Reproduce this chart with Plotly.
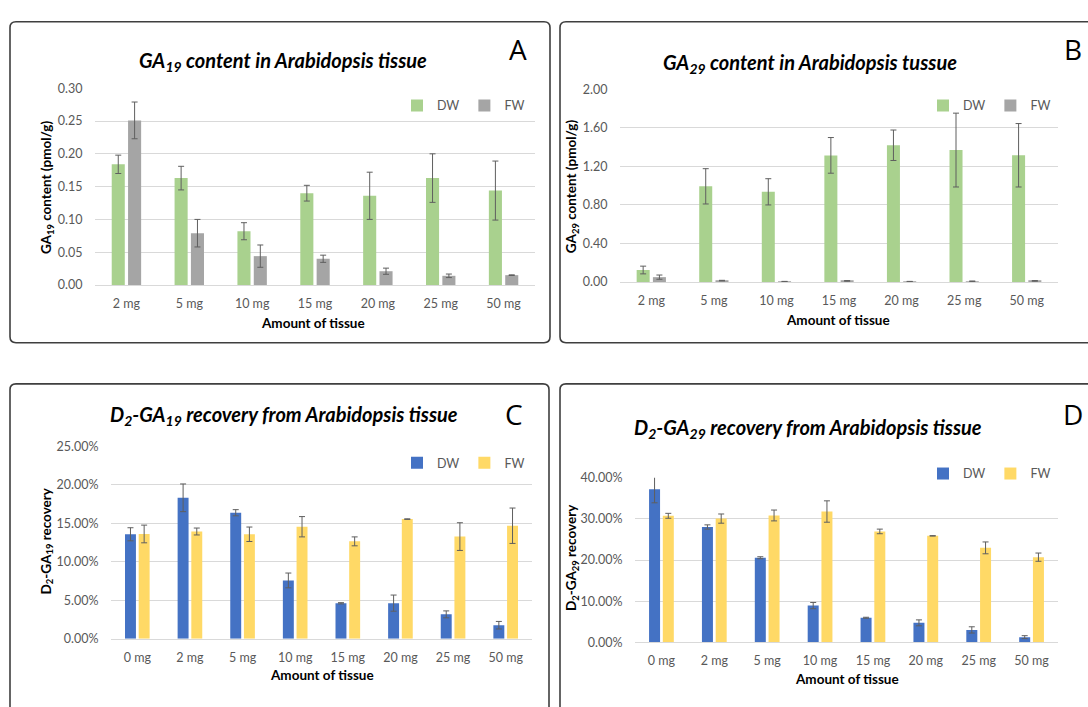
import plotly.graph_objects as go

W, H = 1088, 707


def px(x):
    return x / W


def py(y):
    return 1 - y / H


# ---------------- data ----------------
cats_ab = ["2 mg", "5 mg", "10 mg", "15 mg", "20 mg", "25 mg", "50 mg"]
cats_cd = ["0 mg", "2 mg", "5 mg", "10 mg", "15 mg", "20 mg", "25 mg", "50 mg"]

ga19_dw = [0.184, 0.163, 0.082, 0.140, 0.136, 0.163, 0.144]
ga19_dw_err = [0.014, 0.018, 0.013, 0.012, 0.036, 0.037, 0.045]
ga19_fw = [0.251, 0.079, 0.044, 0.040, 0.021, 0.014, 0.015]
ga19_fw_err = [0.028, 0.021, 0.017, 0.0055, 0.0047, 0.0027, 0.0005]

ga29_dw = [0.125, 0.993, 0.936, 1.314, 1.419, 1.369, 1.315]
ga29_dw_err = [0.040, 0.183, 0.136, 0.185, 0.158, 0.383, 0.329]
ga29_fw = [0.051, 0.015, 0.005, 0.012, 0.005, 0.008, 0.012]
ga29_fw_err = [0.022, 0.003, 0.002, 0.003, 0.002, 0.003, 0.003]

d2ga19_dw = [0.1359, 0.1833, 0.1639, 0.0759, 0.0462, 0.0464, 0.0318, 0.0177]
d2ga19_dw_err = [0.0085, 0.0180, 0.0040, 0.0096, 0.0008, 0.0105, 0.0045, 0.0049]
d2ga19_fw = [0.1363, 0.1395, 0.1359, 0.1457, 0.1267, 0.1556, 0.1329, 0.1470]
d2ga19_fw_err = [0.0115, 0.0045, 0.0094, 0.0132, 0.0058, 0.0004, 0.0180, 0.0230]

d2ga29_dw = [0.372, 0.2804, 0.2056, 0.0892, 0.0596, 0.0472, 0.0300, 0.0124]
d2ga29_dw_err = [0.0328, 0.0052, 0.0024, 0.0076, 0.0012, 0.0072, 0.0076, 0.0036]
d2ga29_fw = [0.3076, 0.3008, 0.3084, 0.3180, 0.2696, 0.2588, 0.2296, 0.2070]
d2ga29_fw_err = [0.0060, 0.0112, 0.0132, 0.0260, 0.0056, 0.0005, 0.0144, 0.0100]

# ---------------- styles ----------------
GREEN = "#A9D18E"
GREY = "#A5A5A5"
BLUE = "#4472C4"
YELLOW = "#FFD966"
ERR = "#5f5f5f"
GRID = "#D9D9D9"
TICK = "#595959"
FONT = "Lato, 'Open Sans', sans-serif"

fig = go.Figure()


def add_bar(name, cats, vals, errs, color, xa, ya, legend):
    fig.add_trace(go.Bar(
        name=name, x=cats, y=vals,
        error_y=dict(type="data", array=errs, visible=True, color=ERR,
                     thickness=1, width=3),
        marker=dict(color=color, line=dict(width=0)),
        xaxis=xa, yaxis=ya, legend=legend,
    ))


add_bar("DW", cats_ab, ga19_dw, ga19_dw_err, GREEN, "x", "y", "legend")
add_bar("FW", cats_ab, ga19_fw, ga19_fw_err, GREY, "x", "y", "legend")
add_bar("DW", cats_ab, ga29_dw, ga29_dw_err, GREEN, "x2", "y2", "legend2")
add_bar("FW", cats_ab, ga29_fw, ga29_fw_err, GREY, "x2", "y2", "legend2")
add_bar("DW", cats_cd, d2ga19_dw, d2ga19_dw_err, BLUE, "x3", "y3", "legend3")
add_bar("FW", cats_cd, d2ga19_fw, d2ga19_fw_err, YELLOW, "x3", "y3", "legend3")
add_bar("DW", cats_cd, d2ga29_dw, d2ga29_dw_err, BLUE, "x4", "y4", "legend4")
add_bar("FW", cats_cd, d2ga29_fw, d2ga29_fw_err, YELLOW, "x4", "y4", "legend4")


def xaxis_cfg(x0, x1, anchor):
    return dict(domain=[px(x0), px(x1)], anchor=anchor, showgrid=False,
                showline=True, linecolor=GRID, linewidth=1,
                ticks="outside", ticklen=7, tickcolor="rgba(0,0,0,0)",
                tickfont=dict(family=FONT, size=12.5, color=TICK),
                zeroline=False, fixedrange=True)


def yaxis_cfg(y_top, y_bot, rng, dtick, fmt, anchor):
    return dict(domain=[py(y_bot), py(y_top)], anchor=anchor, range=rng,
                dtick=dtick, tickformat=fmt, showgrid=True, gridcolor=GRID,
                gridwidth=1, zeroline=False, showline=False,
                ticks="outside", ticklen=9, tickcolor="rgba(0,0,0,0)",
                tickfont=dict(family=FONT, size=12.5, color=TICK),
                fixedrange=True)


def legend_cfg(x_right, y_mid):
    return dict(orientation="h", x=px(x_right), y=py(y_mid), xanchor="right",
                yanchor="middle", bgcolor="rgba(0,0,0,0)",
                font=dict(family=FONT, size=12.5, color=TICK),
                itemwidth=30, traceorder="normal", itemclick=False)


fig.update_layout(
    width=W, height=H,
    margin=dict(l=0, r=0, t=0, b=0),
    paper_bgcolor="white", plot_bgcolor="white",
    barmode="group", bargap=0.48, bargroupgap=0.2,
    font=dict(family=FONT, color="black"),
    showlegend=True,
    xaxis=xaxis_cfg(95, 535, "y"),
    yaxis=yaxis_cfg(82, 283, [0, 0.30], 0.05, ".2f", "x"),
    xaxis2=xaxis_cfg(620, 1058, "y2"),
    yaxis2=yaxis_cfg(83, 280, [0, 2.0], 0.4, ".2f", "x2"),
    xaxis3=xaxis_cfg(111, 532, "y3"),
    yaxis3=yaxis_cfg(448, 644.5, [0, 0.25], 0.05, ".2%", "x3"),
    xaxis4=xaxis_cfg(635, 1058, "y4"),
    yaxis4=yaxis_cfg(480, 648, [0, 0.40], 0.10, ".2%", "x4"),
    legend=legend_cfg(530, 100),
    legend2=legend_cfg(1056, 100),
    legend3=legend_cfg(530, 465),
    legend4=legend_cfg(1056, 476),
)


# ---------------- panel frames (rounded rectangles) ----------------
def rounded_box(x0, y0, x1, y1, r=6):
    rx, ry = r / W, r / H
    X0, X1, Y0, Y1 = px(x0), px(x1), py(y0), py(y1)
    path = (f"M {X0+rx},{Y0} L {X1-rx},{Y0} Q {X1},{Y0} {X1},{Y0-ry} "
            f"L {X1},{Y1+ry} Q {X1},{Y1} {X1-rx},{Y1} "
            f"L {X0+rx},{Y1} Q {X0},{Y1} {X0},{Y1+ry} "
            f"L {X0},{Y0-ry} Q {X0},{Y0} {X0+rx},{Y0} Z")
    return dict(type="path", path=path, xref="paper", yref="paper",
                line=dict(color="#3f3f3f", width=1.6), layer="below")


fig.update_layout(shapes=[
    rounded_box(10, 14, 550, 342),
    rounded_box(560, 14, 1100, 342),
    rounded_box(10, 384, 549, 720),
    rounded_box(560, 384, 1100, 720),
])

# ---------------- text: titles, letters, axis titles ----------------
ann = []


def text(x, y, s, size, angle=0, color="black", family=FONT):
    ann.append(dict(x=px(x), y=py(y), xref="paper", yref="paper", text=s,
                    showarrow=False, xanchor="center", yanchor="middle",
                    textangle=angle, font=dict(family=family, size=size,
                                               color=color)))


text(283, 55, "<b><i>GA<sub>19</sub> content in Arabidopsis tissue</i></b>", 20)
text(810, 57, "<b><i>GA<sub>29</sub> content in Arabidopsis tussue</i></b>", 20)
text(284, 416, "<b><i>D<sub>2</sub>-GA<sub>19</sub> recovery from Arabidopsis tissue</i></b>", 20)
text(808, 430, "<b><i>D<sub>2</sub>-GA<sub>29</sub> recovery from Arabidopsis tissue</i></b>", 20)

text(518, 42, "A", 28, family="'Open Sans', sans-serif")
text(1073, 42, "B", 28, family="'Open Sans', sans-serif")
text(514, 415, "C", 28, family="'Open Sans', sans-serif")
text(1073, 415, "D", 28, family="'Open Sans', sans-serif")

text(313, 322, "<b>Amount of tissue</b>", 13.5)
text(838, 319, "<b>Amount of tissue</b>", 13.5)
text(322, 681, "<b>Amount of tissue</b>", 13.5)
text(847, 686, "<b>Amount of tissue</b>", 13.5)

text(47, 183, "<b>GA<sub>19</sub> content (pmol/g)</b>", 13.5, angle=-90)
text(572, 182, "<b>GA<sub>29</sub> content (pmol/g)</b>", 13.5, angle=-90)
text(47, 545, "<b>D<sub>2</sub>-GA<sub>19</sub> recovery</b>", 13.5, angle=-90)
text(572, 562, "<b>D<sub>2</sub>-GA<sub>29</sub> recovery</b>", 13.5, angle=-90)

fig.update_layout(annotations=ann)

fig.write_html(
    "out.html",
    config={"displayModeBar": False},
    post_script="document.body.style.margin='0px';",
)
